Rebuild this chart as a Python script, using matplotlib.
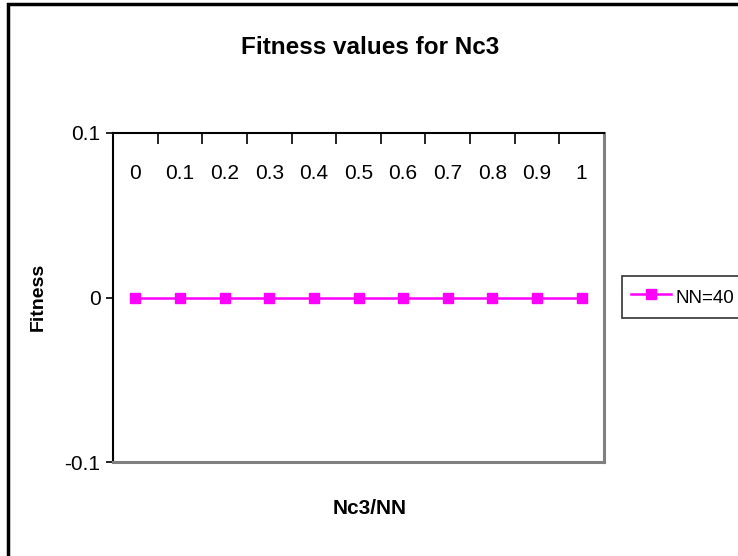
import matplotlib

matplotlib.use("Agg")
import matplotlib.pyplot as plt  # noqa: E402
from matplotlib.patches import Rectangle  # noqa: E402

plt.rcParams["font.family"] = ["Liberation Sans", "DejaVu Sans"]

# dados
categorias = ["0", "0.1", "0.2", "0.3", "0.4", "0.5", "0.6", "0.7", "0.8", "0.9", "1"]
fitness_nn40 = [0, 0, 0, 0, 0, 0, 0, 0, 0, 0, 0]
y_ticks = [-0.1, 0, 0.1]
y_labels = ["-0.1", "0", "0.1"]

W, H = 738, 556
fig = plt.figure(figsize=(W / 100, H / 100), dpi=100)
ax = fig.add_axes([113 / W, 1 - 462 / H, 491 / W, 329 / H])

x = list(range(len(categorias)))
ax.plot(x, fitness_nn40, color="#ff00ff", linewidth=1.8, marker="s",
        markersize=7.5, markeredgecolor="#ff00ff", label="NN=40")

ax.set_xlim(-0.5, len(categorias) - 0.5)
ax.set_ylim(-0.1, 0.1)

# eixo de categorias no topo (cruza em 0.1), rotulos dentro da area
ax.set_xticks([i + 0.5 for i in range(len(categorias) - 1)])
ax.set_xticklabels([])
ax.set_xticks(x, minor=True)
ax.set_xticklabels(categorias, minor=True)
ax.tick_params(axis="x", which="major", top=True, bottom=False, direction="in",
               length=8, width=1.2, color="black", labeltop=False, labelbottom=False)
ax.tick_params(axis="x", which="minor", top=True, bottom=False, length=0,
               labeltop=True, labelbottom=False, pad=-36, labelsize=15)

ax.set_yticks(y_ticks)
ax.set_yticklabels(y_labels)
ax.tick_params(axis="y", direction="out", length=5, width=1.2, labelsize=15, pad=4)

for side in ("left", "top"):
    ax.spines[side].set_color("black")
    ax.spines[side].set_linewidth(1.5)
for side in ("right", "bottom"):
    ax.spines[side].set_color("#808080")
    ax.spines[side].set_linewidth(2.2)

fig.text(370 / W, 1 - 47 / H, "Fitness values for Nc3", ha="center", va="center",
         fontsize=17.5, fontweight="bold")
fig.text(370 / W, 1 - 508 / H, "Nc3/NN", ha="center", va="center",
         fontsize=15, fontweight="bold")
fig.text(38 / W, 1 - 297 / H, "Fitness", ha="center", va="center", rotation=90,
         fontsize=14, fontweight="bold")

leg = fig.legend(loc="center left", bbox_to_anchor=(622 / W, 1 - 297 / H),
                 frameon=True, fancybox=False, fontsize=13.5, handlelength=2.1,
                 handleheight=1.6, handletextpad=0.25, borderpad=0.5,
                 borderaxespad=0)
leg.get_frame().set_edgecolor("black")
leg.get_frame().set_linewidth(1.2)

# borda externa do grafico (cortada a direita e embaixo)
fig.patches.append(Rectangle((8 / W, -0.1), 1.2, 1.1 - 4 / H, transform=fig.transFigure,
                             fill=False, edgecolor="black", linewidth=2.5))

fig.savefig("out.png", dpi=100)
